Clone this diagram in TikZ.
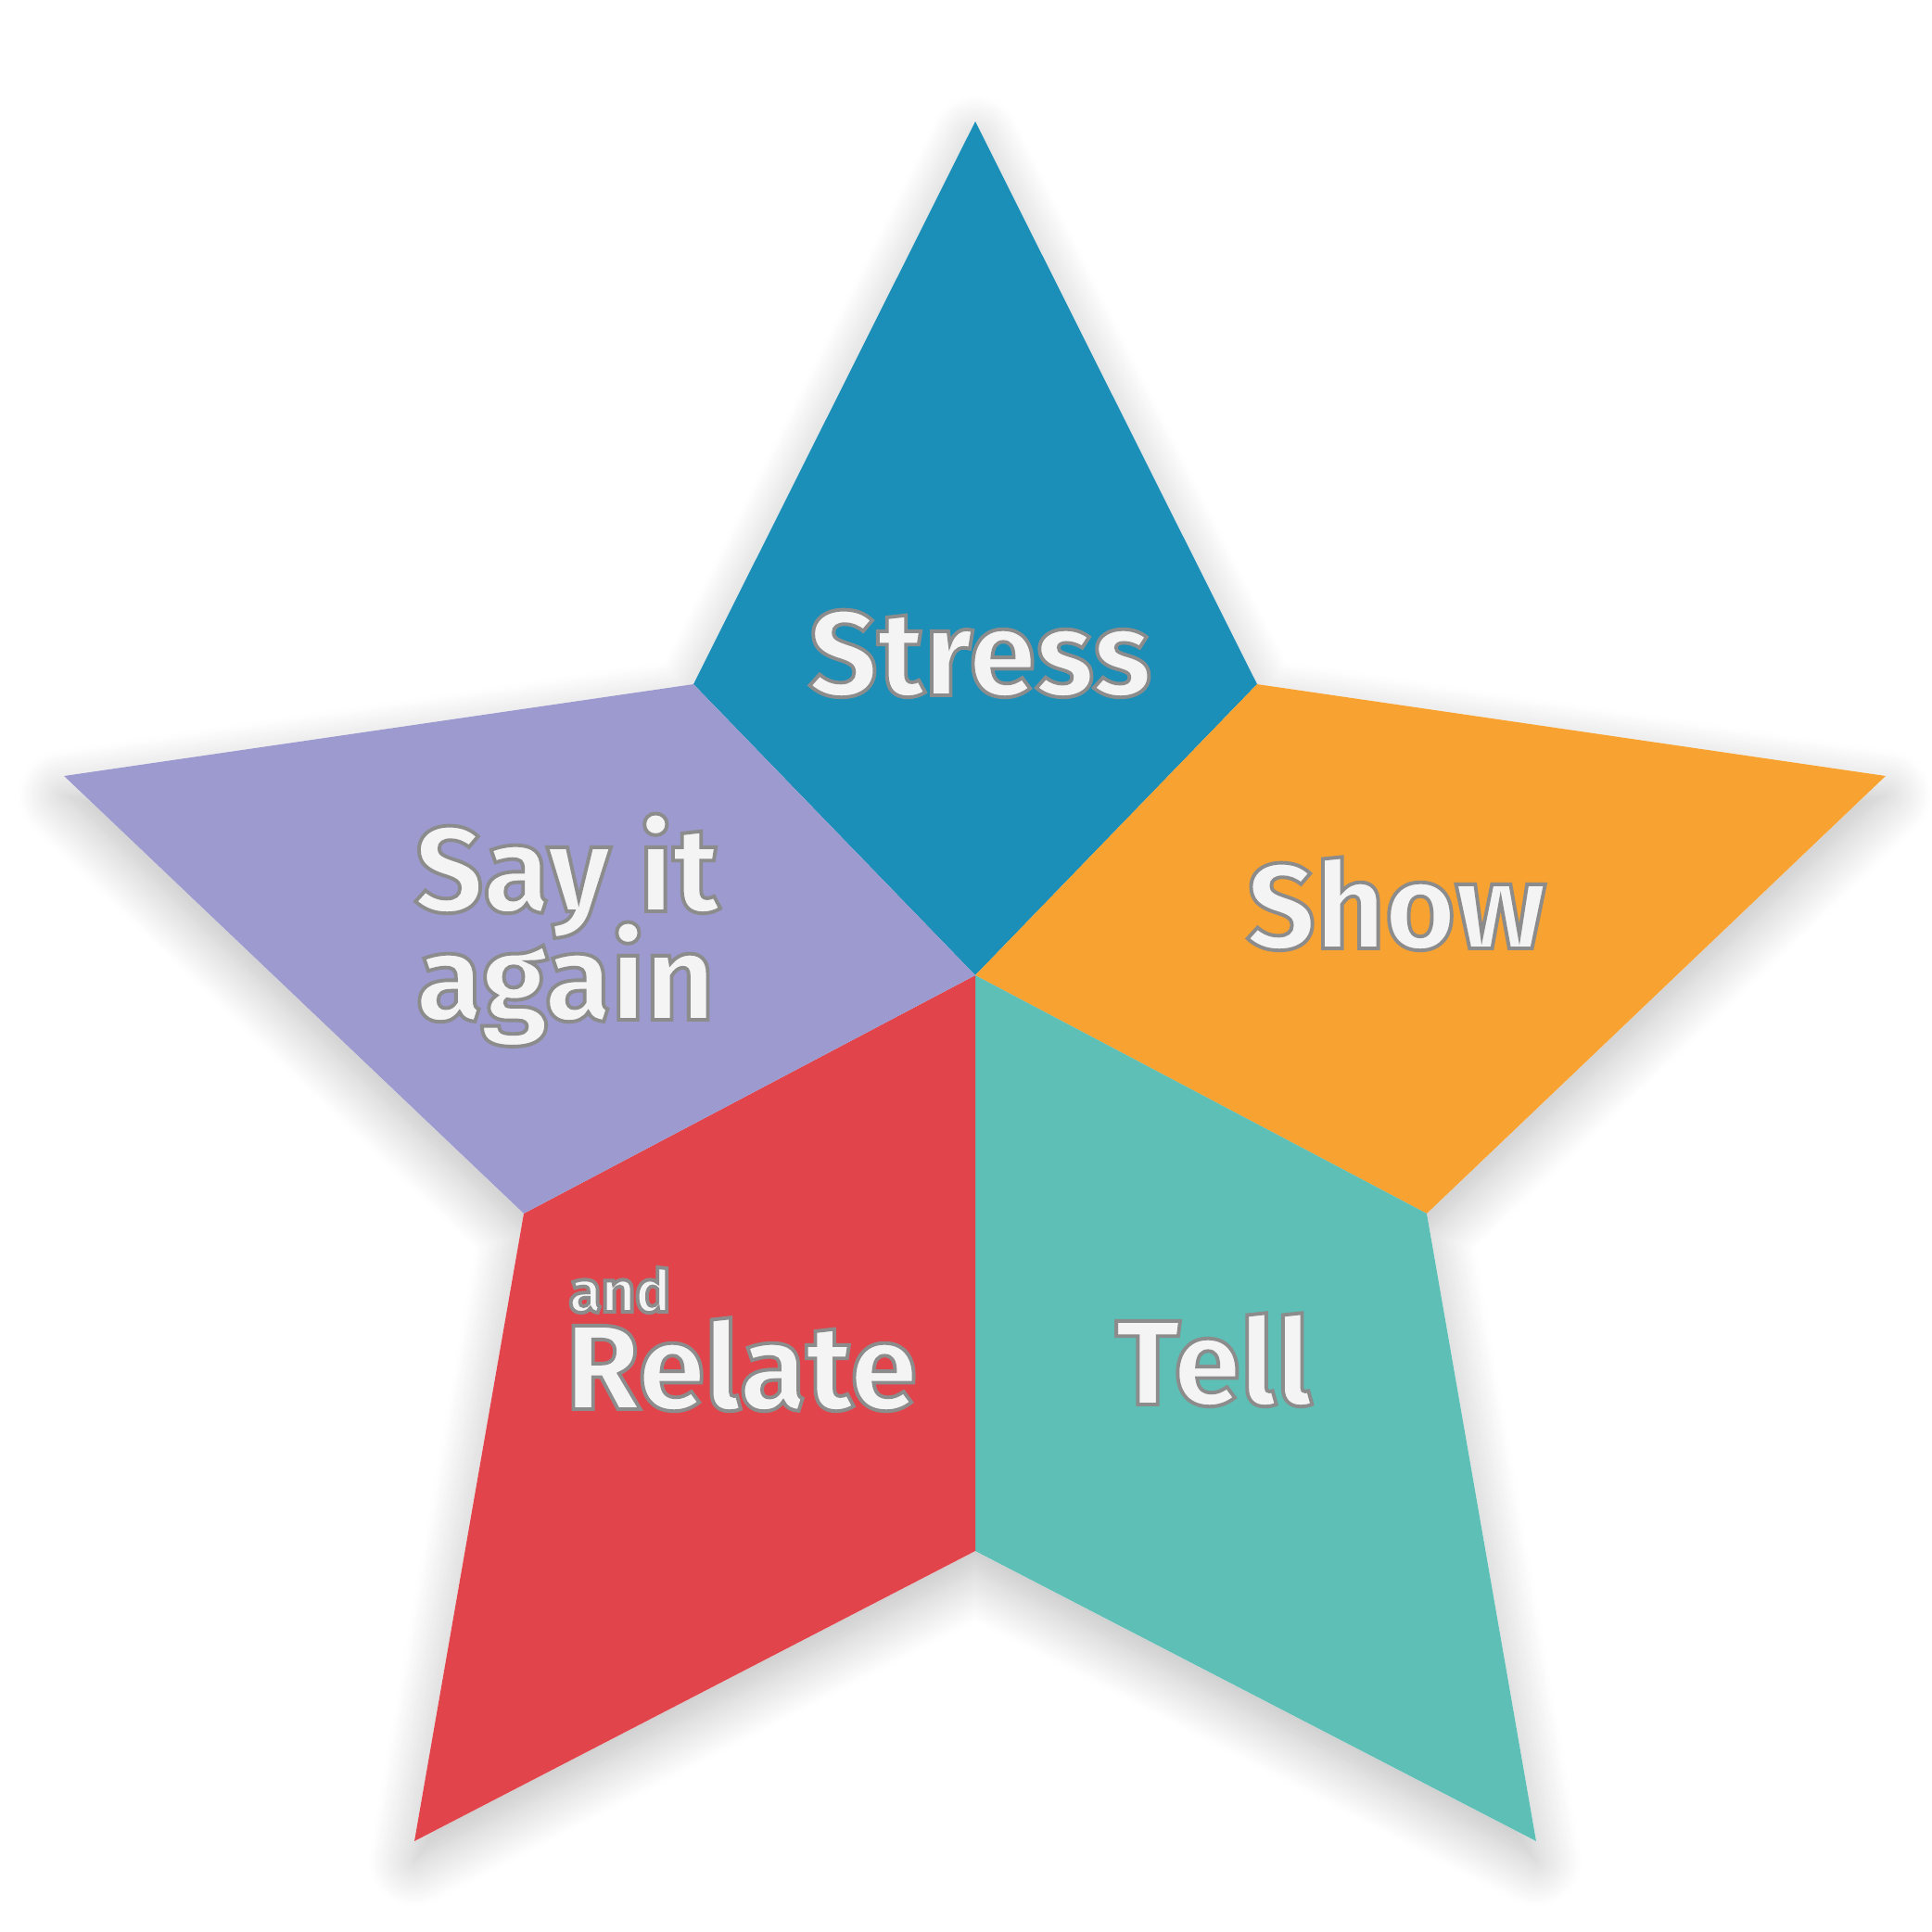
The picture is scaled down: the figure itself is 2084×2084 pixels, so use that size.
\documentclass[tikz,border=0pt]{standalone}
\usepackage{fontspec}
\setmainfont{Fira Sans}
\usetikzlibrary{calc,shadows.blur}
\definecolor{cblue}{HTML}{1B8FB7}
\definecolor{corange}{HTML}{F7A231}
\definecolor{cpurple}{HTML}{9C9ACE}
\definecolor{cred}{HTML}{E1444B}
\definecolor{cteal}{HTML}{5DBFB6}
\definecolor{txtwhite}{HTML}{F4F4F4}
\newcommand\strk[1]{\special{pdf:literal direct 2 Tr 1.1 w 0.55 G}#1\special{pdf:literal direct 0 Tr}}
\tikzset{
  lbl/.style={inner sep=0pt, outer sep=0pt, text=txtwhite, font=\bfseries\fontsize{37}{37}\selectfont},
  small/.style={font=\bfseries\fontsize{18}{18}\selectfont},
}
\begin{document}
\begin{tikzpicture}[x=0.01cm,y=-0.01cm]
\useasboundingbox (0,0) rectangle (2084,2084);
\coordinate (T) at (1052,131);
\coordinate (C) at (1052,1052);
\coordinate (UL) at (748,738);
\coordinate (UR) at (1356,738);
\coordinate (L) at (69,837);
\coordinate (R) at (2034,837);
\coordinate (LL) at (565,1309);
\coordinate (LR) at (1539,1309);
\coordinate (BL) at (447,1986);
\coordinate (BR) at (1657,1986);
\coordinate (B) at (1052,1673);
% shadow
\fill[white, blur shadow={shadow xshift=0pt, shadow yshift=-6pt, shadow blur radius=14pt, shadow blur steps=20, shadow opacity=26}]
  (T) -- (UR) -- (R) -- (LR) -- (BR) -- (B) -- (BL) -- (LL) -- (L) -- (UL) -- cycle;
% kites
\fill[cblue] (C) -- (UL) -- (T) -- (UR) -- cycle;
\fill[corange] (C) -- (UR) -- (R) -- (LR) -- cycle;
\fill[cteal] (C) -- (LR) -- (BR) -- (B) -- cycle;
\fill[cred] (C) -- (B) -- (BL) -- (LL) -- cycle;
\fill[cpurple] (C) -- (LL) -- (L) -- (UL) -- cycle;
% labels
\node[lbl, anchor=base] (stress) at (1057,750) {\strk{Stress}};
\node[lbl, anchor=base] (show) at (1506,1023) {\strk{Show}};
\node[lbl, anchor=base west] (sayit) at (447,983) {\strk{Say it}};
\node[lbl, anchor=base west] (again) at (449,1100) {\strk{again}};
\node[lbl, small, anchor=base west] (and) at (614,1415) {\strk{and}};
\node[lbl, anchor=base west] (relate) at (610,1520) {\strk{Relate}};
\node[lbl, anchor=base] (tell) at (1309,1515) {\strk{Tell}};
\end{tikzpicture}
\end{document}
